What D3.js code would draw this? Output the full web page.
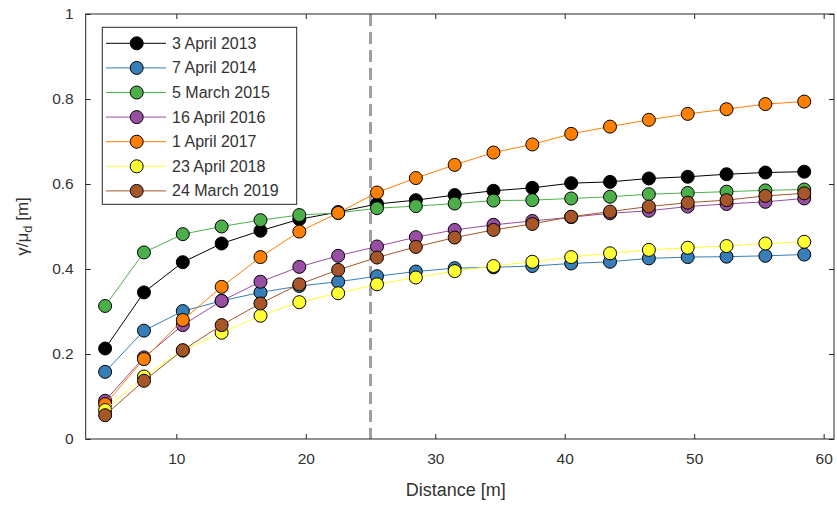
<!DOCTYPE html>
<html>
<head>
<meta charset="utf-8">
<script src="https://cdn.jsdelivr.net/npm/d3@7"></script>
<style>
  html, body { margin: 0; padding: 0; background: #fff; }
  svg { display: block; font-family: "Liberation Sans", Arial, sans-serif; }
</style>
</head>
<body>
<svg id="chart" width="837" height="505"></svg>
<script>
const distance = [4.5, 7.5, 10.5, 13.5, 16.5, 19.5, 22.5, 25.5, 28.5, 31.5, 34.5, 37.5, 40.5, 43.5, 46.5, 49.5, 52.5, 55.5, 58.5];
const seriesNames = ["3 April 2013", "7 April 2014", "5 March 2015", "16 April 2016", "1 April 2017", "23 April 2018", "24 March 2019"];
const seriesColors = ["#000000", "#377eb8", "#4daf4a", "#984ea3", "#ff7f00", "#ffff33", "#a65628"];
const s2013 = [0.213, 0.345, 0.416, 0.460, 0.490, 0.517, 0.534, 0.553, 0.562, 0.574, 0.584, 0.591, 0.602, 0.605, 0.613, 0.617, 0.623, 0.627, 0.629];
const s2014 = [0.158, 0.255, 0.301, 0.325, 0.345, 0.360, 0.370, 0.383, 0.394, 0.402, 0.404, 0.407, 0.413, 0.417, 0.425, 0.428, 0.429, 0.431, 0.434];
const s2015 = [0.313, 0.439, 0.482, 0.500, 0.515, 0.527, 0.532, 0.543, 0.548, 0.554, 0.561, 0.562, 0.566, 0.570, 0.576, 0.579, 0.582, 0.585, 0.587];
const s2016 = [0.090, 0.192, 0.268, 0.325, 0.370, 0.405, 0.431, 0.453, 0.475, 0.492, 0.504, 0.513, 0.522, 0.531, 0.537, 0.547, 0.553, 0.558, 0.566];
const s2017 = [0.082, 0.188, 0.280, 0.358, 0.428, 0.488, 0.532, 0.580, 0.614, 0.645, 0.674, 0.693, 0.718, 0.735, 0.751, 0.765, 0.776, 0.788, 0.794];
const s2018 = [0.068, 0.147, 0.208, 0.250, 0.290, 0.322, 0.343, 0.364, 0.380, 0.395, 0.407, 0.417, 0.428, 0.437, 0.445, 0.450, 0.454, 0.460, 0.464];
const s2019 = [0.056, 0.137, 0.209, 0.268, 0.319, 0.364, 0.398, 0.427, 0.452, 0.474, 0.492, 0.506, 0.523, 0.535, 0.547, 0.556, 0.562, 0.572, 0.578];
const xTicks = [10, 20, 30, 40, 50, 60];
const yTicks = [0, 0.2, 0.4, 0.6, 0.8, 1];
const xDomain = [3, 60.8];
const yDomain = [0, 1];
const markerLine = 25;

const allSeries = [s2013, s2014, s2015, s2016, s2017, s2018, s2019];

const svg = d3.select("#chart");
const L = 85.7, R = 834, T = 14, B = 439;
const x = d3.scaleLinear().domain(xDomain).range([L, R]);
const y = d3.scaleLinear().domain(yDomain).range([B, T]);
const axisColor = "#262626";
const textColor = "#333333";
const mr = 6.5;

// dashed vertical line
svg.append("line")
  .attr("x1", x(markerLine)).attr("x2", x(markerLine))
  .attr("y1", y(1)).attr("y2", y(0))
  .attr("stroke", "#a0a0a0").attr("stroke-width", 3)
  .attr("stroke-dasharray", "12,6");

// series
const line = d3.line().x((d, i) => x(distance[i])).y(d => y(d));
allSeries.forEach((vals, si) => {
  const g = svg.append("g");
  g.append("path").datum(vals)
    .attr("d", line).attr("fill", "none")
    .attr("stroke", seriesColors[si]).attr("stroke-width", 1);
  g.selectAll("circle").data(vals).enter().append("circle")
    .attr("cx", (d, i) => x(distance[i])).attr("cy", d => y(d))
    .attr("r", mr).attr("fill", seriesColors[si])
    .attr("stroke", "#000").attr("stroke-width", 1);
});

// axes (box with inward ticks)
const tickLen = 5;
const axBottom = svg.append("g").attr("transform", `translate(0,${B})`)
  .call(d3.axisBottom(x).tickValues(xTicks).tickSizeInner(-tickLen).tickSizeOuter(0).tickPadding(14).tickFormat(d3.format("d")));
const axTop = svg.append("g").attr("transform", `translate(0,${T})`)
  .call(d3.axisTop(x).tickValues(xTicks).tickSizeInner(-tickLen).tickSizeOuter(0).tickFormat(""));
const axLeft = svg.append("g").attr("transform", `translate(${L},0)`)
  .call(d3.axisLeft(y).tickValues(yTicks).tickSizeInner(-tickLen).tickSizeOuter(0).tickPadding(12).tickFormat(d => d === 0 || d === 1 ? String(d) : d3.format(".1f")(d)));
const axRight = svg.append("g").attr("transform", `translate(${R},0)`)
  .call(d3.axisRight(y).tickValues(yTicks).tickSizeInner(-tickLen).tickSizeOuter(0).tickFormat(""));
[axBottom, axTop, axLeft, axRight].forEach(a => {
  a.select(".domain").remove();
  a.selectAll(".tick line").attr("stroke", axisColor);
  a.selectAll(".tick text").attr("fill", textColor).attr("font-size", 15.5).attr("font-family", "Liberation Sans, Arial, sans-serif");
});
svg.append("rect").attr("x", L).attr("y", T).attr("width", R - L).attr("height", B - T)
  .attr("fill", "none").attr("stroke", axisColor).attr("stroke-width", 1);

// axis labels
svg.append("text").attr("x", (L + R) / 2 - 4).attr("y", 496)
  .attr("text-anchor", "middle").attr("font-size", 18).attr("fill", textColor)
  .text("Distance [m]");
const yl = svg.append("text").attr("transform", `translate(28,${(T + B) / 2}) rotate(-90)`)
  .attr("text-anchor", "middle").attr("font-size", 17).attr("fill", textColor);
yl.append("tspan").text("γ/μ");
yl.append("tspan").attr("font-size", 13).attr("dy", 4).text("d");
yl.append("tspan").attr("dy", -4).text(" [m]");

// legend
const lg = svg.append("g");
lg.append("rect").attr("x", 102.3).attr("y", 27.3).attr("width", 194.4).attr("height", 177)
  .attr("fill", "#fff").attr("stroke", axisColor).attr("stroke-width", 1);
seriesNames.forEach((name, i) => {
  const cy = 43.3 + i * 24.6;
  lg.append("line").attr("x1", 106).attr("x2", 166).attr("y1", cy).attr("y2", cy)
    .attr("stroke", seriesColors[i]).attr("stroke-width", 1);
  lg.append("circle").attr("cx", 136.7).attr("cy", cy).attr("r", mr)
    .attr("fill", seriesColors[i]).attr("stroke", "#000").attr("stroke-width", 1);
  lg.append("text").attr("x", 172).attr("y", cy + 5.5).attr("font-size", 16)
    .attr("fill", textColor).text(name);
});
</script>
</body>
</html>
